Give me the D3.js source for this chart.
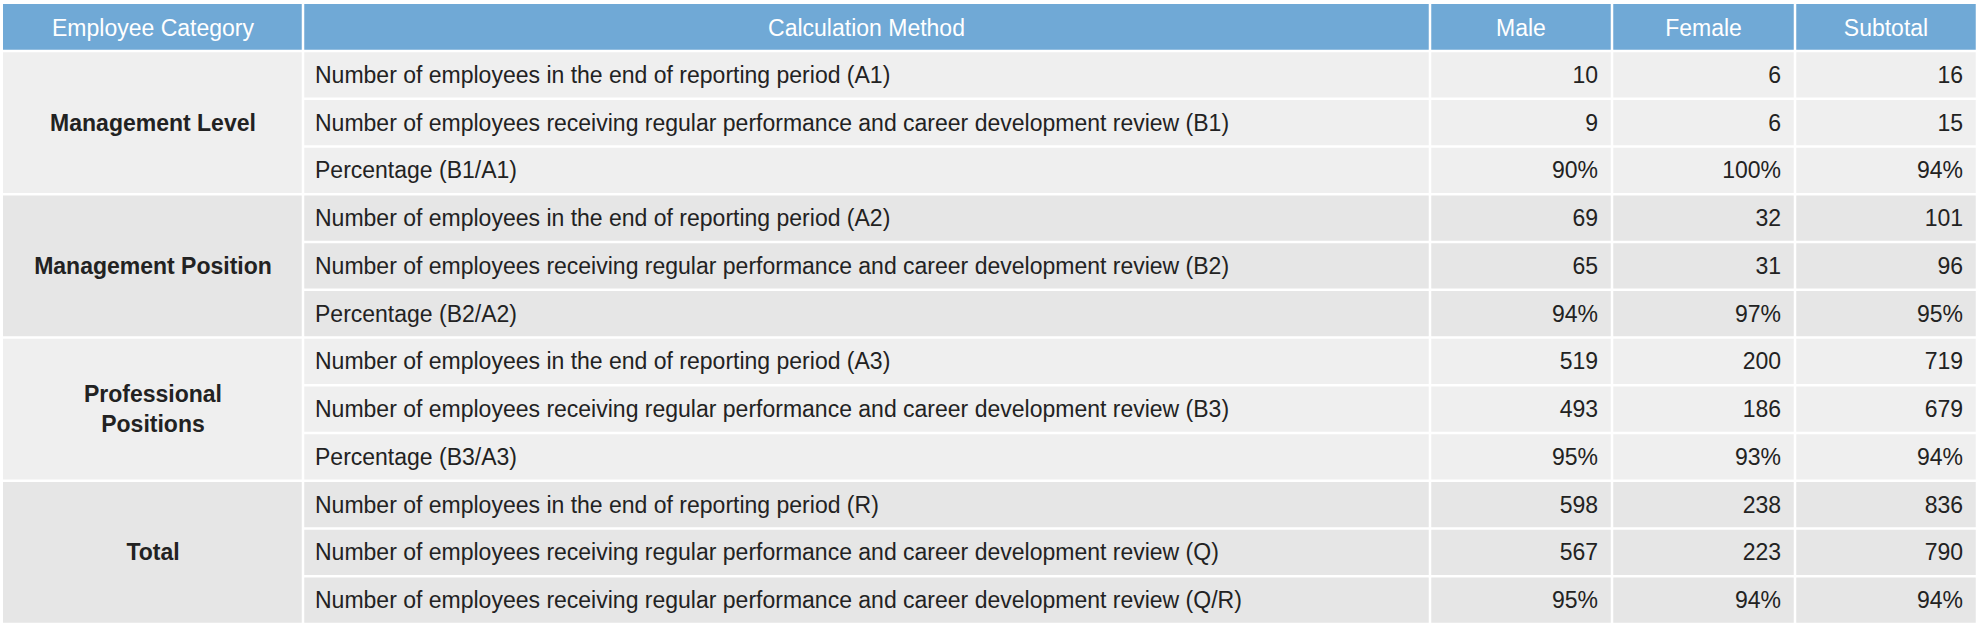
<!DOCTYPE html>
<html><head><meta charset="utf-8">
<script src="https://cdn.jsdelivr.net/npm/d3@7"></script>
<style>body{margin:0;background:#fff}</style>
</head><body>
<script>
var headers = ["Employee Category", "Calculation Method", "Male", "Female", "Subtotal"];
var categories = ["Management Level", "Management Position", "Professional\nPositions", "Total"];
var methods = [
  "Number of employees in the end of reporting period (A1)",
  "Number of employees receiving regular performance and career development review (B1)",
  "Percentage (B1/A1)",
  "Number of employees in the end of reporting period (A2)",
  "Number of employees receiving regular performance and career development review (B2)",
  "Percentage (B2/A2)",
  "Number of employees in the end of reporting period (A3)",
  "Number of employees receiving regular performance and career development review (B3)",
  "Percentage (B3/A3)",
  "Number of employees in the end of reporting period (R)",
  "Number of employees receiving regular performance and career development review (Q)",
  "Number of employees receiving regular performance and career development review (Q/R)"
];
var male = ["10", "9", "90%", "69", "65", "94%", "519", "493", "95%", "598", "567", "95%"];
var female = ["6", "6", "100%", "32", "31", "97%", "200", "186", "93%", "238", "223", "94%"];
var subtotal = ["16", "15", "94%", "101", "96", "95%", "719", "679", "94%", "836", "790", "94%"];

var W = 1980, H = 628;
var colEdges = [3, 303, 1430, 1612, 1795, 1977];
var font = "'Liberation Sans', Arial, sans-serif";

var svg = d3.select("body").append("svg").attr("width", W).attr("height", H);

var y = d3.scaleBand().domain(d3.range(12)).range([51, 624]);
var gap = 2.5;

// header
svg.selectAll("rect.h").data(headers).enter().append("rect")
  .attr("x", function (d, i) { return colEdges[i] + (i ? gap / 2 : 0); })
  .attr("y", 4)
  .attr("width", function (d, i) { return colEdges[i + 1] - colEdges[i] - (i ? gap / 2 : 0) - gap / 2; })
  .attr("height", 51 - 4 - gap / 2)
  .attr("fill", "#70a9d6");
svg.selectAll("text.h").data(headers).enter().append("text")
  .attr("x", function (d, i) { return (colEdges[i] + colEdges[i + 1]) / 2; })
  .attr("y", 28)
  .attr("text-anchor", "middle")
  .attr("dominant-baseline", "central")
  .attr("fill", "#fff").attr("font-family", font).attr("font-size", 23)
  .text(function (d) { return d; });

function shade(i) { return Math.floor(i / 3) % 2 ? "#e6e6e6" : "#efefef"; }

// category cells
svg.selectAll("rect.c").data(categories).enter().append("rect")
  .attr("x", colEdges[0]).attr("y", function (d, i) { return y(i * 3) + gap / 2; })
  .attr("width", colEdges[1] - colEdges[0] - gap / 2)
  .attr("height", y.bandwidth() * 3 - gap)
  .attr("fill", function (d, i) { return shade(i * 3); });
svg.selectAll("text.c").data(categories).enter().append("text")
  .attr("text-anchor", "middle").attr("font-family", font).attr("font-size", 23)
  .attr("font-weight", "bold").attr("fill", "#222")
  .each(function (d, i) {
    var lines = d.split("\n");
    var cy = y(i * 3) + y.bandwidth() * 1.5;
    d3.select(this).selectAll("tspan").data(lines).enter().append("tspan")
      .attr("x", (colEdges[0] + colEdges[1]) / 2)
      .attr("y", function (l, j) { return cy + (j - (lines.length - 1) / 2) * 30; })
      .attr("dominant-baseline", "central")
      .text(function (l) { return l; });
  });

// body cells
var cols = [methods, male, female, subtotal];
cols.forEach(function (arr, c) {
  var ci = c + 1;
  svg.selectAll("rect.b" + ci).data(arr).enter().append("rect")
    .attr("x", colEdges[ci] + gap / 2)
    .attr("y", function (d, i) { return y(i) + gap / 2; })
    .attr("width", colEdges[ci + 1] - colEdges[ci] - gap)
    .attr("height", y.bandwidth() - gap)
    .attr("fill", function (d, i) { return shade(i); });
  svg.selectAll("text.b" + ci).data(arr).enter().append("text")
    .attr("x", ci === 1 ? colEdges[1] + 12 : colEdges[ci + 1] - 14)
    .attr("y", function (d, i) { return y(i) + y.bandwidth() / 2; })
    .attr("text-anchor", ci === 1 ? "start" : "end")
    .attr("dominant-baseline", "central")
    .attr("fill", "#222").attr("font-family", font).attr("font-size", 23)
    .text(function (d) { return d; });
});
</script>
</body></html>
